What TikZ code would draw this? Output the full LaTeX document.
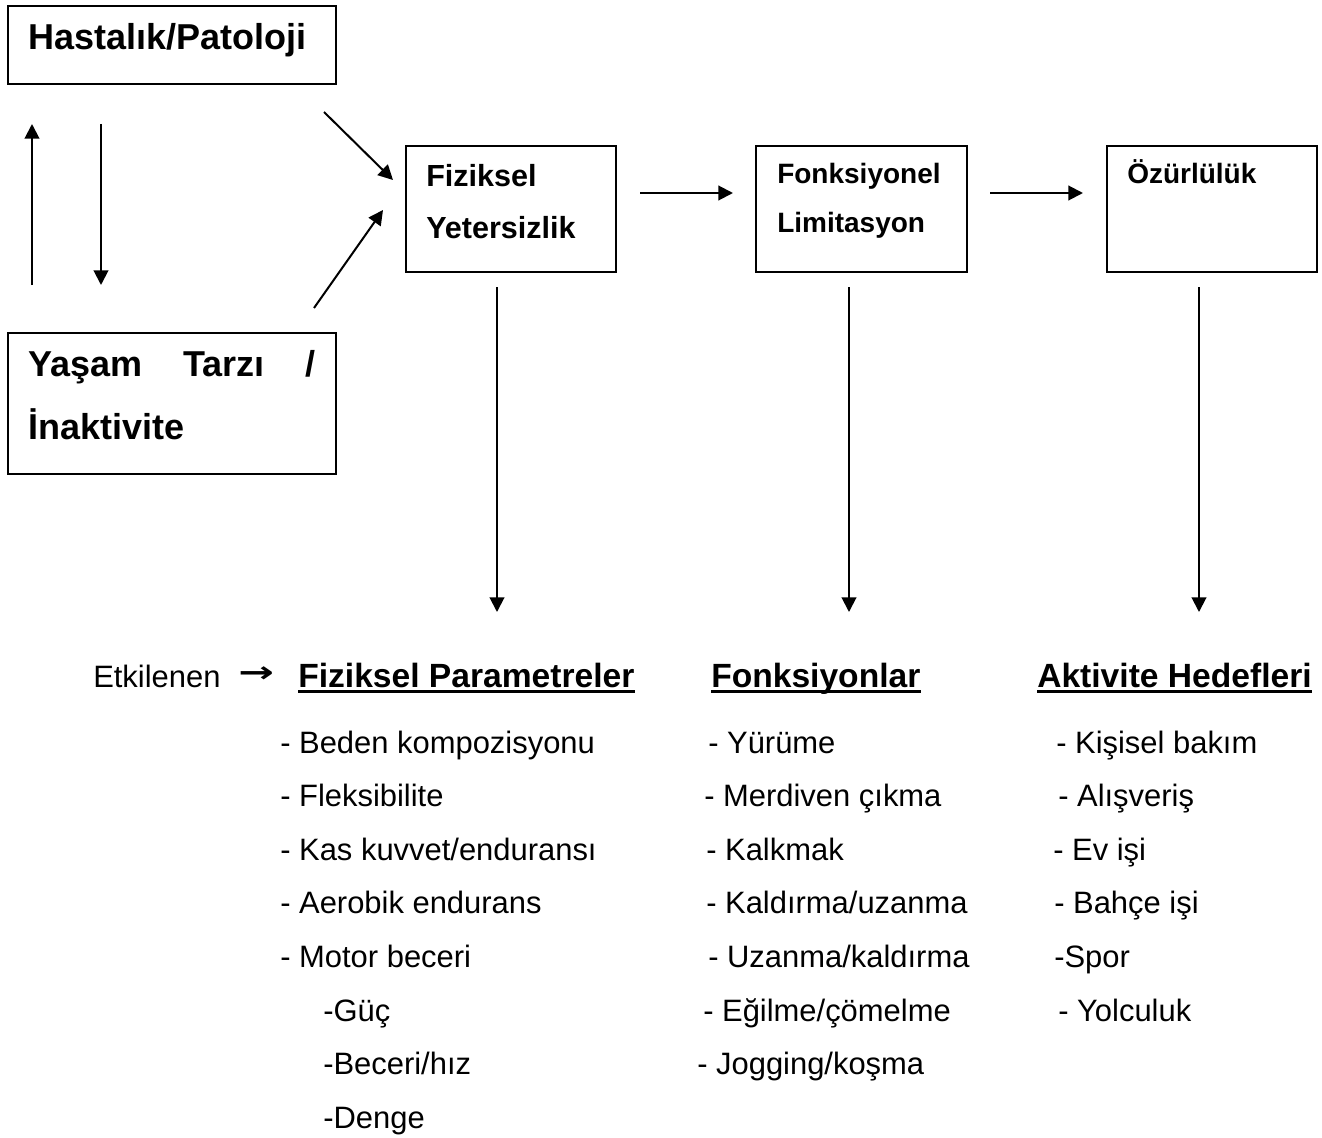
\documentclass[tikz,border=0pt]{standalone}
\usepackage{fontspec}
\setmainfont{Liberation Sans}
\newfontfamily\djv{DejaVu Sans}
\usetikzlibrary{arrows.meta,calc}
\begin{document}
\begin{tikzpicture}[x=0.75pt,y=-0.75pt,
  box/.style={draw, line width=1.5pt, inner sep=0pt, anchor=north west},
  txt/.style={anchor=base west, inner sep=0pt},
  body/.style={txt, font=\fontsize{23.2pt}{28pt}\selectfont},
  head/.style={txt, font=\bfseries\fontsize{25.2pt}{30pt}\selectfont},
  bigb/.style={txt, font=\bfseries\fontsize{27pt}{32pt}\selectfont},
  midb/.style={txt, font=\bfseries\fontsize{22.9pt}{28pt}\selectfont},
  smb/.style={txt, font=\bfseries\fontsize{21pt}{26pt}\selectfont},
  arr/.style={line width=1.5pt, -{Triangle[length=11pt,width=11pt]}},
  uline/.style={line width=2.5pt}]
\fill[white] (0,0) rectangle (1322,1138);

% boxes
\node[box, minimum width=246pt, minimum height=58.5pt] (hast) at (7,5) {};
\node[box, minimum width=246pt, minimum height=105.75pt] (yasam) at (7,332) {};
\node[box, minimum width=157.5pt, minimum height=94.5pt] (fiz) at (405,145) {};
\node[box, minimum width=158.25pt, minimum height=94.5pt] (fonk) at (755,145) {};
\node[box, minimum width=157.5pt, minimum height=94.5pt] (ozur) at (1106,145) {};

% box texts
\node[bigb] (thast) at (28,50) {Hastalık/Patoloji};
\node[bigb] (tyas1) at (28,376) {\hbox to 215.25pt{Yaşam\hfill Tarzı\hfill /}};
\node[bigb] (tyas2) at (28,439) {İnaktivite};
\node[midb] (tfiz1) at (426,186) {Fiziksel};
\node[midb] (tfiz2) at (426,238) {Yetersizlik};
\node[smb] (tfonk1) at (777,183) {Fonksiyonel};
\node[smb] (tfonk2) at (777,232) {Limitasyon};
\node[smb] (tozur) at (1127,183) {Özürlülük};

% connectors
\draw[arr] ([shift={(-13,27)}]hast.south east) -- ([shift={(-12,35)}]fiz.north west);
\draw[arr] ([shift={(-23,-24)}]yasam.north east) -- ([shift={(-22,65)}]fiz.north west);
\draw[arr] ([shift={(25,-47)}]yasam.north west) -- ([shift={(25,39)}]hast.south west);
\draw[arr] ([shift={(94,39)}]hast.south west) -- ([shift={(94,-47)}]yasam.north west);
\draw[arr] ([shift={(23,-16)}]fiz.east) -- ([shift={(-22,-16)}]fonk.west);
\draw[arr] ([shift={(22,-16)}]fonk.east) -- ([shift={(-23,-16)}]ozur.west);

\coordinate (e1) at (497,612);
\coordinate (e2) at (849,612);
\coordinate (e3) at (1199,612);
\draw[arr] (fiz.south -| e1) ++(0,14) -- (e1);
\draw[arr] (fonk.south -| e2) ++(0,14) -- (e2);
\draw[arr] (ozur.south -| e3) ++(0,14) -- (e3);

% headings
\node[body] (etk) at (93,687) {Etkilenen};
\node[txt, font=\djv\bfseries\fontsize{22pt}{26pt}\selectfont] (etkarr) at (238,682) {\scalebox{1.45}[1]{→}};
\node[head] (h1) at (298,687) {Fiziksel Parametreler};
\node[head] (h2) at (711,687) {Fonksiyonlar};
\node[head] (h3) at (1037,687) {Aktivite Hedefleri};
\foreach \h in {h1,h2,h3}
  \draw[uline] ([yshift=-3.5pt]\h.base west) -- ([yshift=-3.5pt]\h.base east);

% column 1
\node[body] (a1) at (280,753) {- Beden kompozisyonu};
\node[body] (a2) at (280,806.6) {- Fleksibilite};
\node[body] (a3) at (280,860.2) {- Kas kuvvet/enduransı};
\node[body] (a4) at (280,913.8) {- Aerobik endurans};
\node[body] (a5) at (280,967.4) {- Motor beceri};
\node[body] (a6) at (323,1021) {-Güç};
\node[body] (a7) at (323,1074.6) {-Beceri/hız};
\node[body] (a8) at (323,1128.2) {-Denge};

% column 2
\node[body] (b1) at (708,753) {- Yürüme};
\node[body] (b2) at (704,806.6) {- Merdiven çıkma};
\node[body] (b3) at (706,860.2) {- Kalkmak};
\node[body] (b4) at (706,913.8) {- Kaldırma/uzanma};
\node[body] (b5) at (708,967.4) {- Uzanma/kaldırma};
\node[body] (b6) at (703,1021) {- Eğilme/çömelme};
\node[body] (b7) at (697,1074.6) {- Jogging/koşma};

% column 3
\node[body] (c1) at (1056,753) {- Kişisel bakım};
\node[body] (c2) at (1058,806.6) {- Alışveriş};
\node[body] (c3) at (1053,860.2) {- Ev işi};
\node[body] (c4) at (1054,913.8) {- Bahçe işi};
\node[body] (c5) at (1054,967.4) {-Spor};
\node[body] (c6) at (1058,1021) {- Yolculuk};
\end{tikzpicture}
\end{document}
